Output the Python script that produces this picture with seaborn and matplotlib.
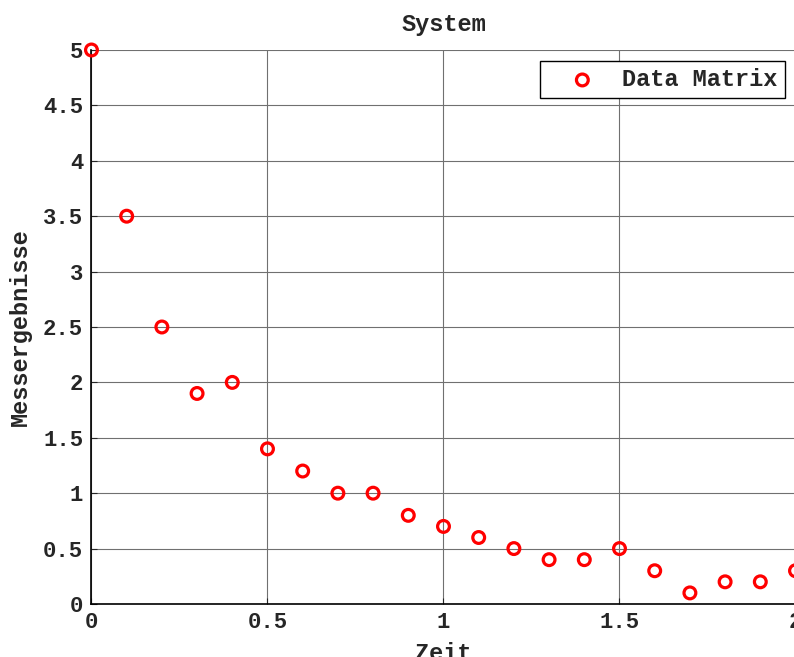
import matplotlib
matplotlib.use("Agg")
import matplotlib.pyplot as plt
import seaborn as sns
import pandas as pd

# data
zeit = [0.0, 0.1, 0.2, 0.3, 0.4, 0.5, 0.6, 0.7, 0.8, 0.9, 1.0,
        1.1, 1.2, 1.3, 1.4, 1.5, 1.6, 1.7, 1.8, 1.9, 2.0]
messwerte = [5.0, 3.5, 2.5, 1.9, 2.0, 1.4, 1.2, 1.0, 1.0, 0.8, 0.7,
             0.6, 0.5, 0.4, 0.4, 0.5, 0.3, 0.1, 0.2, 0.2, 0.3]
x_ticks = [0, 0.5, 1, 1.5, 2]
x_labels = ["0", "0.5", "1", "1.5", "2"]
y_ticks = [0, 0.5, 1, 1.5, 2, 2.5, 3, 3.5, 4, 4.5, 5]
y_labels = ["0", "0.5", "1", "1.5", "2", "2.5", "3", "3.5", "4", "4.5", "5"]

df = pd.DataFrame({"Zeit": zeit, "Messergebnisse": messwerte})

sns.set_style("white")
plt.rcParams['font.family'] = ['Liberation Mono', 'DejaVu Sans Mono']
plt.rcParams['font.weight'] = 'bold'

fig = plt.figure(figsize=(7.94, 6.57), dpi=100)
ax = fig.add_axes([0.1152, 0.0807, 0.8867, 0.8432])

sns.scatterplot(data=df, x="Zeit", y="Messergebnisse", ax=ax,
                marker='o', s=72, facecolors='none', edgecolor='red',
                linewidth=2.3, label='Data Matrix', clip_on=False, zorder=5)

ax.set_xlim(0, 2)
ax.set_ylim(0, 5)
ax.set_xticks(x_ticks)
ax.set_xticklabels(x_labels)
ax.set_yticks(y_ticks)
ax.set_yticklabels(y_labels)
ax.tick_params(direction='in', length=4, width=0.8, labelsize=16, pad=6,
               top=False, right=False, bottom=True, left=True)
ax.grid(True, color='#707070', linewidth=0.8)
for s in ['left', 'bottom']:
    ax.spines[s].set_color('black')
    ax.spines[s].set_linewidth(1.2)
for s in ['top', 'right']:
    ax.spines[s].set_visible(False)

ax.set_title("System", fontsize=17, fontweight='bold', pad=14)
ax.set_xlabel("Zeit", fontsize=17, fontweight='bold', labelpad=6)
ax.set_ylabel("Messergebnisse", fontsize=17, fontweight='bold', labelpad=8)

leg = ax.legend(loc='upper right', bbox_to_anchor=(0.985, 0.980),
                borderaxespad=0, fontsize=17, frameon=True, fancybox=False,
                edgecolor='black', framealpha=1, handlelength=3.0,
                handletextpad=0.2, borderpad=0.3)
leg.get_frame().set_linewidth(1.0)

fig.savefig("out.png", dpi=100, facecolor='white')
